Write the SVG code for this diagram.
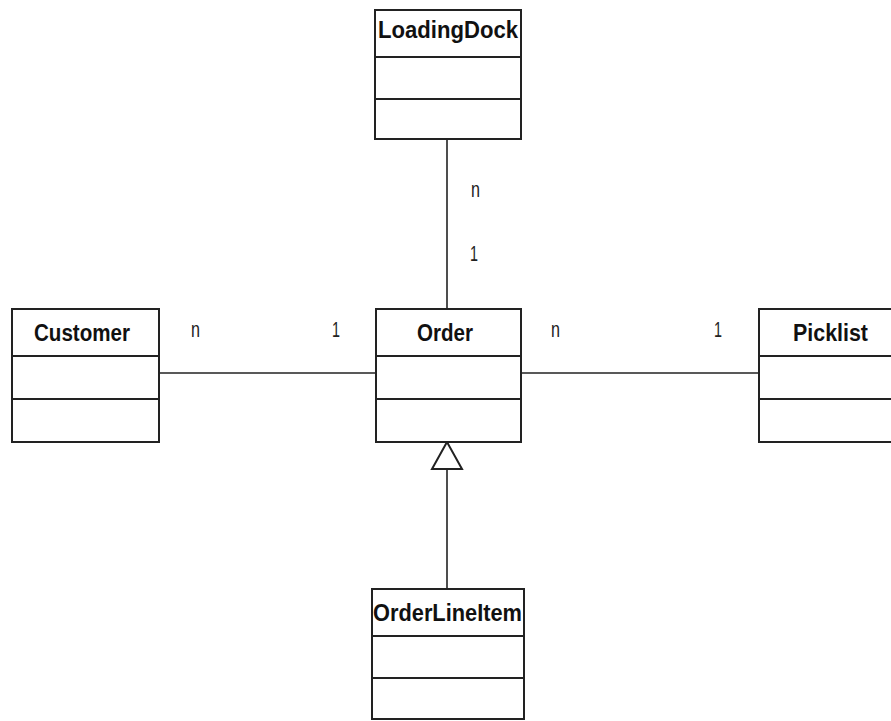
<svg xmlns="http://www.w3.org/2000/svg" width="891" height="721" viewBox="0 0 891 721">
  <style>
    .box { fill: #ffffff; stroke: #222222; stroke-width: 2; }
    .div { stroke: #222222; stroke-width: 2; }
    .name { font-family: "Liberation Sans", Arial, sans-serif; font-weight: bold; font-size: 23px; fill: #111111; text-anchor: start; }
    .mult { font-family: "Liberation Sans", Arial, sans-serif; font-size: 22px; fill: #222222; }
    .link { stroke: #222222; stroke-width: 1.6; fill: none; }
  </style>
  <rect width="891" height="721" fill="#ffffff"/>

  <!-- connectors -->
  <g id="connectors">
    <line class="link" x1="447" y1="139" x2="447" y2="309"/>
    <line class="link" x1="159" y1="373" x2="376" y2="373"/>
    <line class="link" x1="521" y1="373" x2="759" y2="373"/>
    <line class="link" x1="447" y1="469" x2="447" y2="589"/>
    <!-- generalization arrowhead pointing at Order -->
    <polygon points="447,442 432,469 462,469" fill="#ffffff" stroke="#222222" stroke-width="2"/>
    <text class="mult" x="471" y="197" textLength="9" lengthAdjust="spacingAndGlyphs">n</text>
    <text class="mult" x="470" y="261" textLength="8" lengthAdjust="spacingAndGlyphs">1</text>
    <text class="mult" x="191" y="337" textLength="9" lengthAdjust="spacingAndGlyphs">n</text>
    <text class="mult" x="332" y="337" textLength="8" lengthAdjust="spacingAndGlyphs">1</text>
    <text class="mult" x="551" y="337" textLength="9" lengthAdjust="spacingAndGlyphs">n</text>
    <text class="mult" x="714" y="337" textLength="8" lengthAdjust="spacingAndGlyphs">1</text>
  </g>

  <g id="LoadingDock">
    <rect class="box" x="375" y="10" width="146" height="129"/>
    <line class="div" x1="375" y1="57" x2="521" y2="57"/>
    <line class="div" x1="375" y1="99" x2="521" y2="99" stroke-width="3"/>
    <text class="name" x="378" y="38" textLength="140" lengthAdjust="spacingAndGlyphs">LoadingDock</text>
  </g>

  <g id="Customer">
    <rect class="box" x="12" y="309" width="147" height="133"/>
    <line class="div" x1="12" y1="356" x2="159" y2="356"/>
    <line class="div" x1="12" y1="399" x2="159" y2="399"/>
    <text class="name" x="34" y="341" textLength="96" lengthAdjust="spacingAndGlyphs">Customer</text>
  </g>

  <g id="Order">
    <rect class="box" x="376" y="309" width="145" height="133"/>
    <line class="div" x1="376" y1="356" x2="521" y2="356"/>
    <line class="div" x1="376" y1="399" x2="521" y2="399"/>
    <text class="name" x="417" y="341" textLength="56" lengthAdjust="spacingAndGlyphs">Order</text>
  </g>

  <g id="Picklist">
    <rect class="box" x="759" y="309" width="140" height="133"/>
    <line class="div" x1="759" y1="356" x2="899" y2="356"/>
    <line class="div" x1="759" y1="399" x2="899" y2="399"/>
    <text class="name" x="793" y="341" textLength="75" lengthAdjust="spacingAndGlyphs">Picklist</text>
  </g>

  <g id="OrderLineItem">
    <rect class="box" x="372" y="589" width="152" height="130"/>
    <line class="div" x1="372" y1="636" x2="524" y2="636"/>
    <line class="div" x1="372" y1="678" x2="524" y2="678"/>
    <text class="name" x="373" y="621" textLength="149" lengthAdjust="spacingAndGlyphs">OrderLineItem</text>
  </g>
</svg>
